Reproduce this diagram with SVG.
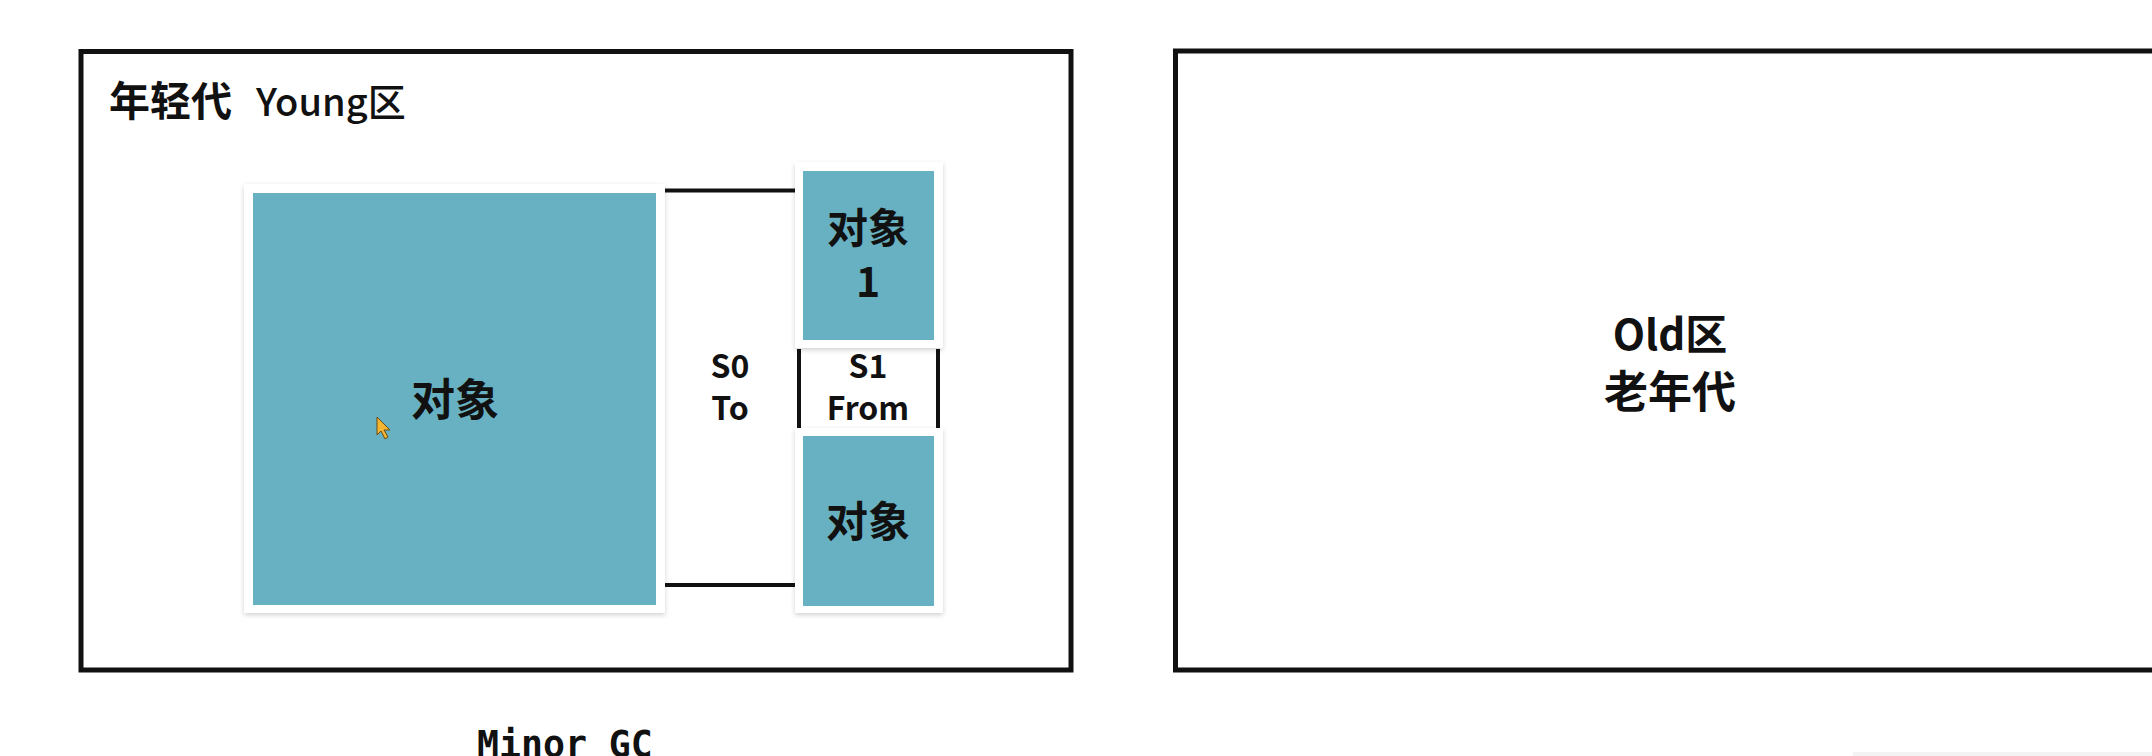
<svg xmlns="http://www.w3.org/2000/svg" width="2152" height="756" viewBox="0 0 2152 756">
  <defs>
    <filter id="shadow" x="-10%" y="-10%" width="120%" height="120%">
      <feDropShadow dx="0" dy="2" stdDeviation="2.5" flood-color="#000000" flood-opacity="0.18"/>
    </filter>
    <style>
      .region { fill: #ffffff; stroke: #111111; stroke-width: 5; }
      .card { fill: #ffffff; filter: url(#shadow); }
      .obj { fill: #68b1c2; }
      .edge { stroke: #111111; stroke-width: 4; fill: none; }
      .cjk { font-family: "Noto Sans CJK SC", "Noto Sans", sans-serif; fill: #111111; }
      .b { font-weight: bold; }
      .m { font-weight: 500; }
      .mid { text-anchor: middle; }
      .mono { font-family: "DejaVu Sans Mono", "Liberation Mono", monospace; fill: #111111; font-weight: bold; }
    </style>
  </defs>
  <rect x="0" y="0" width="2152" height="756" fill="#ffffff"/>

  <g id="young">
    <rect class="region" x="81" y="51.5" width="990" height="618.5"/>
    <text class="cjk b" x="109" y="116" font-size="41">年轻代</text>
    <text class="cjk m" x="256" y="116" font-size="38">Young区</text>
  </g>

  <g id="old">
    <rect class="region" x="1175.5" y="51" width="1000" height="619"/>
    <text class="cjk b mid" x="1670" y="350" font-size="42">Old区</text>
    <text class="cjk b mid" x="1670" y="408" font-size="44">老年代</text>
  </g>

  <g id="connectors">
    <line class="edge" x1="665" y1="190.5" x2="796" y2="190.5"/>
    <line class="edge" x1="665" y1="585" x2="796" y2="585"/>
    <line class="edge" x1="799" y1="349" x2="799" y2="428"/>
    <line class="edge" x1="938" y1="349" x2="938" y2="428"/>
  </g>

  <g id="eden">
    <rect class="card" x="244" y="184" width="421" height="429"/>
    <rect class="obj" x="253" y="193" width="403" height="412"/>
    <text class="cjk b mid" x="455" y="416" font-size="44">对象</text>
  </g>

  <g id="s0">
    <text class="cjk b mid" x="730" y="378" font-size="32">S0</text>
    <text class="cjk b mid" x="730" y="420" font-size="32">To</text>
  </g>

  <g id="s1">
    <text class="cjk b mid" x="868" y="378" font-size="32">S1</text>
    <text class="cjk b mid" x="868" y="420" font-size="32">From</text>
  </g>

  <g id="obj1">
    <rect class="card" x="795" y="162" width="148" height="186"/>
    <rect class="obj" x="803" y="171" width="131" height="169"/>
    <text class="cjk b mid" x="868" y="243" font-size="41">对象</text>
    <text class="cjk b mid" x="868" y="297" font-size="41">1</text>
  </g>

  <g id="obj2">
    <rect class="card" x="795" y="428" width="148" height="185"/>
    <rect class="obj" x="803" y="436" width="131" height="170"/>
    <text class="cjk b mid" x="868" y="537" font-size="42">对象</text>
  </g>

  <g id="minor-gc">
    <text class="mono" x="477" y="757" font-size="36.5">Minor GC</text>
  </g>

  <g id="cursor">
    <polygon points="377,417 377,435 381,431 385,439 388,437 384,430 390,430" fill="#f2b632" stroke="#6b4a10" stroke-width="1"/>
  </g>

  <rect x="1853" y="752" width="299" height="4" fill="#f3f3f3"/>
</svg>
